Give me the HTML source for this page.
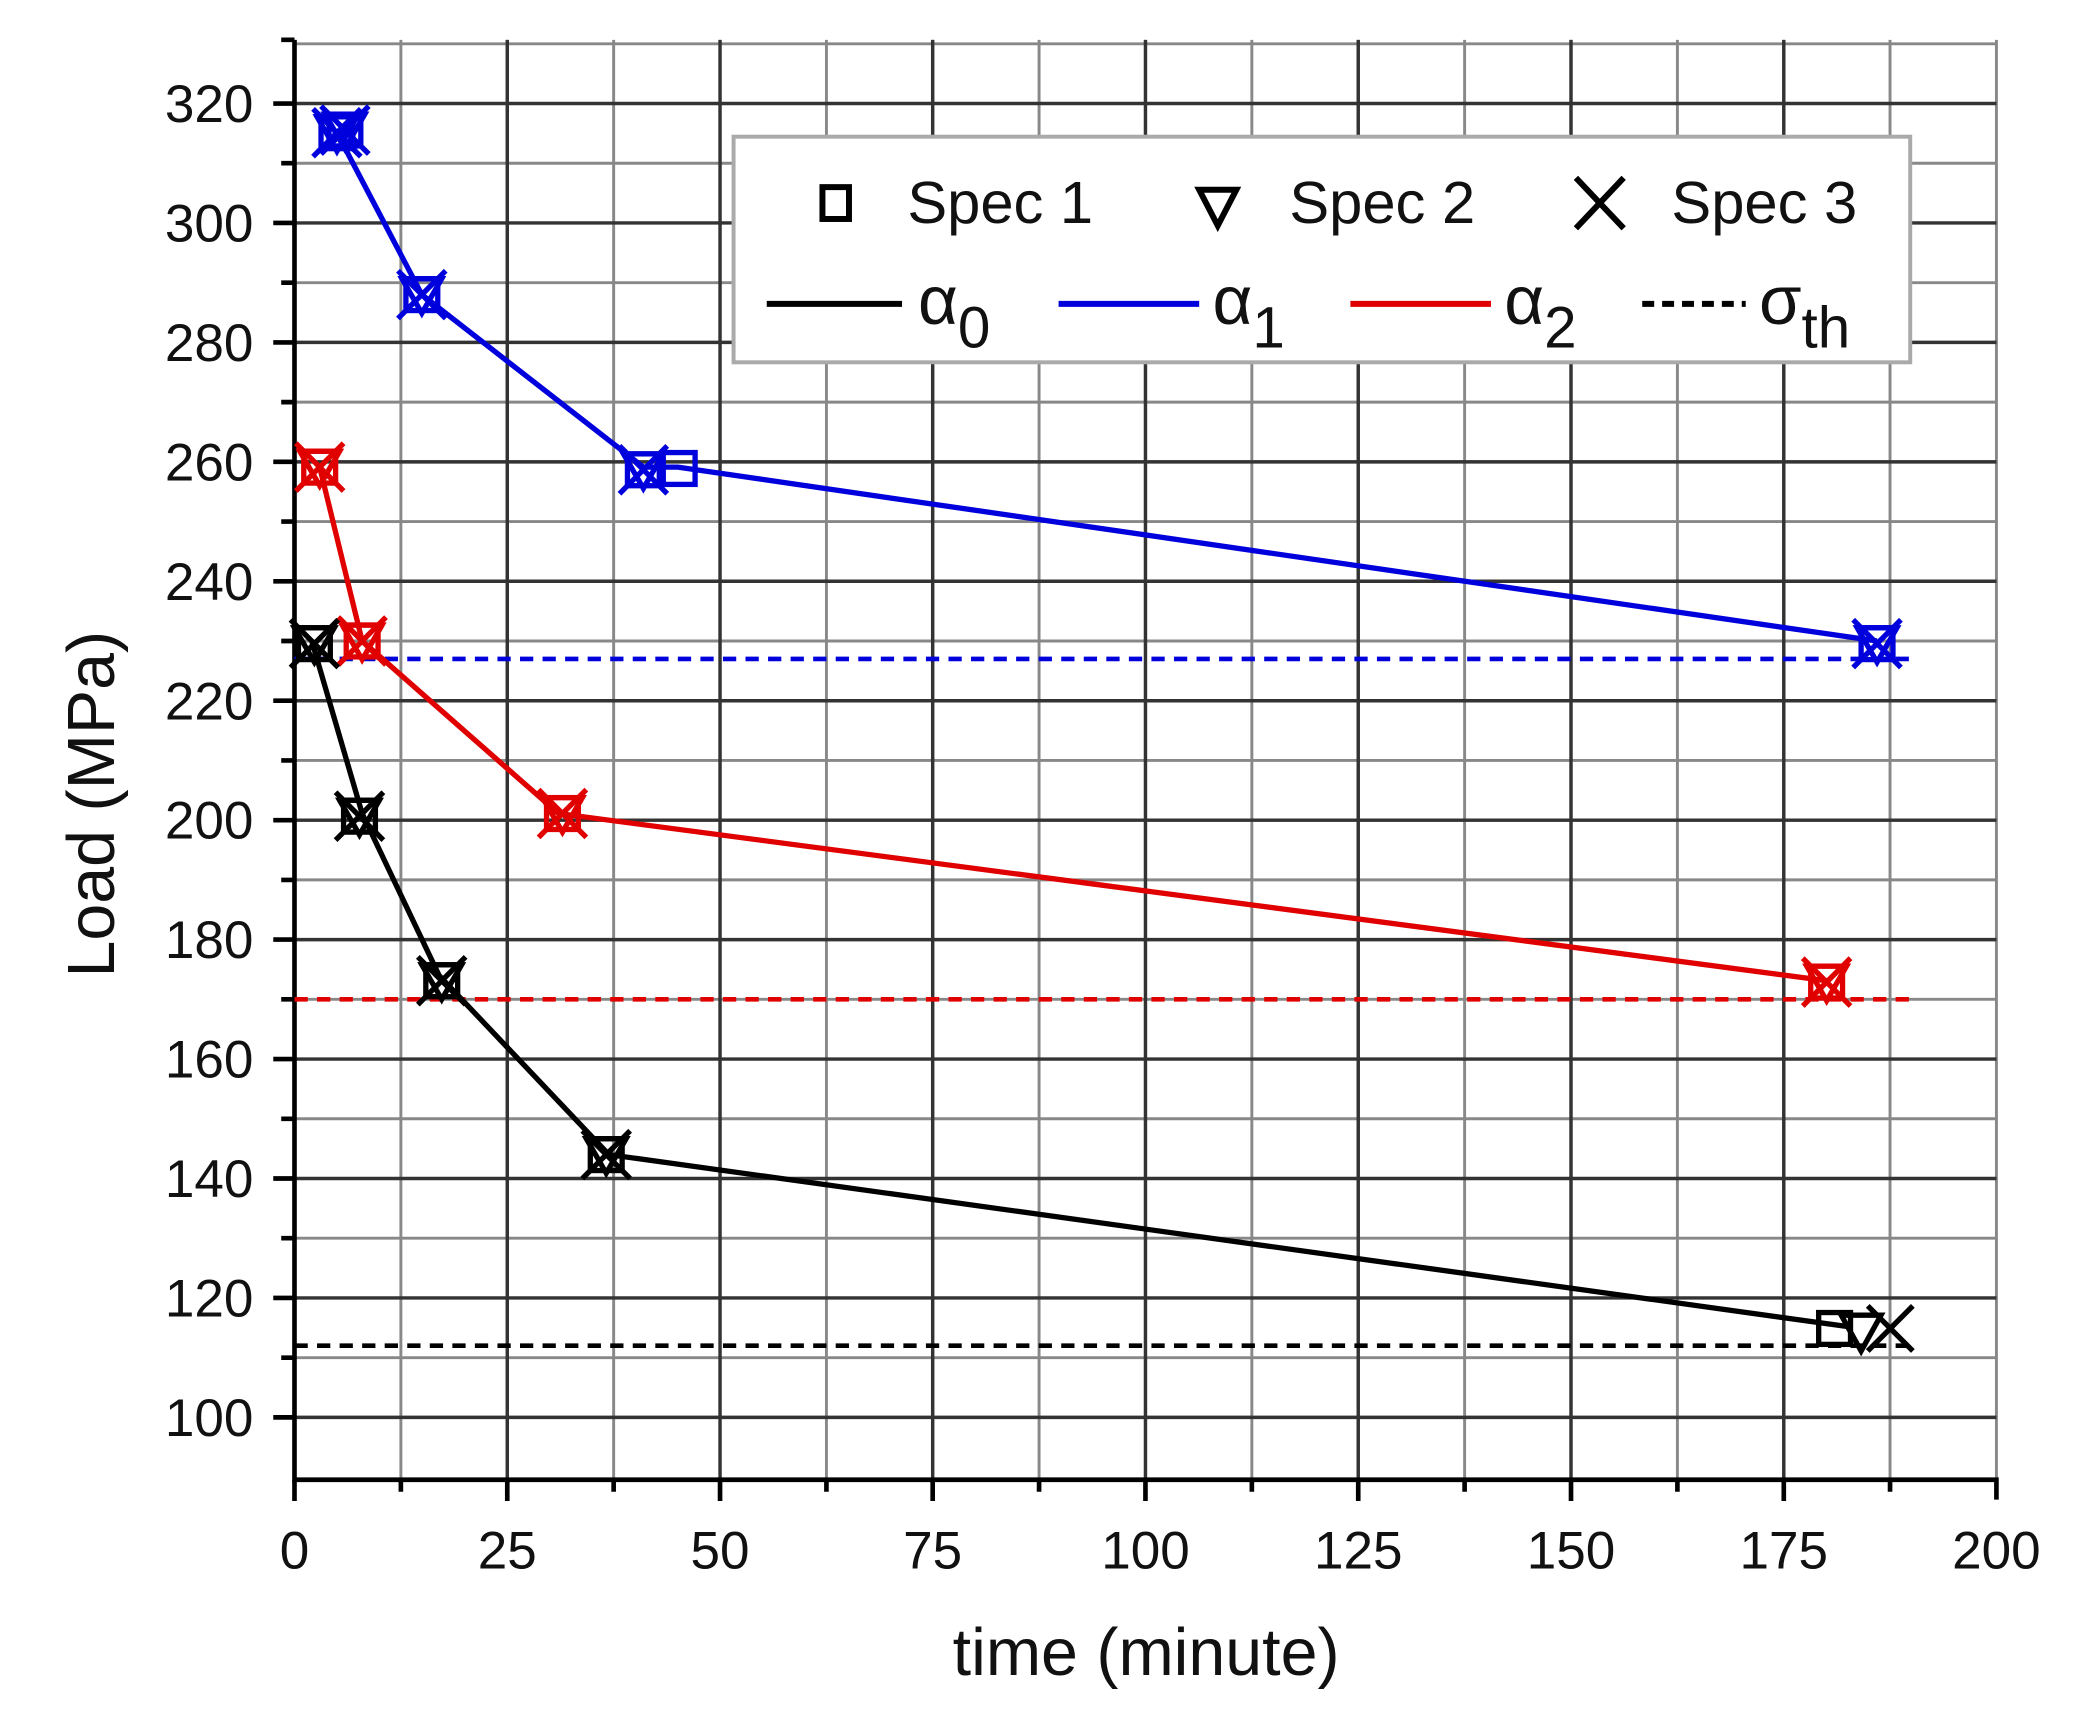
<!DOCTYPE html>
<html><head><meta charset="utf-8"><style>html,body{margin:0;padding:0;background:#fff}svg{display:block}</style></head>
<body>
<svg width="2080" height="1712" viewBox="0 0 1568 1290" preserveAspectRatio="none" xmlns="http://www.w3.org/2000/svg" font-family="Liberation Sans, sans-serif">
<rect width="1568" height="1290" fill="#fff"/>
<defs>
<g id="mk" fill="none" stroke-width="4">
<rect x="-12" y="-12" width="24" height="24"/>
<path d="M-15,-12 L15,-12 L0,14 Z"/>
<path d="M-18,-18 L18,18 M-18,18 L18,-18"/>
</g>
</defs>
<g stroke="#888" stroke-width="2.2">
<path d="M302.2,30V1115M382.4,30V1115M462.6,30V1115M542.8,30V1115M623,30V1115M703.1,30V1115M783.3,30V1115M863.5,30V1115M943.7,30V1115M1023.9,30V1115M1104.1,30V1115M1184.3,30V1115M1264.5,30V1115M1344.7,30V1115M1424.8,30V1115M1505,30V1115"/>
<path d="M222,33H1505M222,78H1505M222,123H1505M222,168H1505M222,213H1505M222,258H1505M222,303H1505M222,348H1505M222,393H1505M222,438H1505M222,483H1505M222,528H1505M222,573H1505M222,618H1505M222,663H1505M222,708H1505M222,753H1505M222,798H1505M222,843H1505M222,888H1505M222,933H1505M222,978H1505M222,1023H1505M222,1068H1505"/>
</g>
<g stroke="#333" stroke-width="2.6">
<path d="M382.4,30V1115M542.8,30V1115M703.1,30V1115M863.5,30V1115M1023.9,30V1115M1184.3,30V1115M1344.7,30V1115"/>
<path d="M222,78H1505M222,168H1505M222,258H1505M222,348H1505M222,438H1505M222,528H1505M222,618H1505M222,708H1505M222,798H1505M222,888H1505M222,978H1505M222,1068H1505"/>
</g>
<g stroke="#000" stroke-width="3.5" fill="none">
<path d="M222,30V1115H1505V1130M212,30H222"/>
<path d="M222,1115v16M382.4,1115v16M542.8,1115v16M703.1,1115v16M863.5,1115v16M1023.9,1115v16M1184.3,1115v16M1344.7,1115v16"/>
<path d="M302.2,1115v9M462.6,1115v9M623,1115v9M783.3,1115v9M943.7,1115v9M1104.1,1115v9M1264.5,1115v9M1424.8,1115v9"/>
<path d="M206,78h16M206,168h16M206,258h16M206,348h16M206,438h16M206,528h16M206,618h16M206,708h16M206,798h16M206,888h16M206,978h16M206,1068h16"/>
<path d="M212,123h10M212,213h10M212,303h10M212,393h10M212,483h10M212,573h10M212,663h10M212,753h10M212,843h10M212,933h10M212,1023h10"/>
</g>
<g font-size="40" fill="#111" text-anchor="end">
<text x="191" y="92">320</text><text x="191" y="182">300</text><text x="191" y="272">280</text><text x="191" y="362">260</text><text x="191" y="452">240</text><text x="191" y="542">220</text><text x="191" y="632">200</text><text x="191" y="722">180</text><text x="191" y="812">160</text><text x="191" y="902">140</text><text x="191" y="992">120</text><text x="191" y="1082">100</text>
</g>
<g font-size="40" fill="#111" text-anchor="middle">
<text x="222" y="1182">0</text><text x="382.4" y="1182">25</text><text x="542.8" y="1182">50</text><text x="703.1" y="1182">75</text><text x="863.5" y="1182">100</text><text x="1023.9" y="1182">125</text><text x="1184.3" y="1182">150</text><text x="1344.7" y="1182">175</text><text x="1505" y="1182">200</text>
</g>
<text x="864" y="1262" font-size="50" text-anchor="middle" fill="#111">time (minute)</text>
<text transform="translate(86,606) rotate(-90)" font-size="50" text-anchor="middle" fill="#111">Load (MPa)</text>
<g stroke-width="3.5" stroke-dasharray="10,7" fill="none">
<path d="M222,496.5H1445" stroke="#0000dd"/>
<path d="M222,753H1445" stroke="#e00000"/>
<path d="M222,1014H1445" stroke="#000"/>
</g>
<g fill="none" stroke-width="4">
<polyline stroke="#0000dd" points="254,100 318,222 485,352 511,352 1415,483"/>
<polyline stroke="#e00000" points="241,352 273,483 421,613 1377,739"/>
<polyline stroke="#000" points="235,483 273,613 331,735 459,870 1396,1000"/>
</g>
<g stroke="#0000dd">
<use href="#mk" x="254" y="100"/><use href="#mk" x="260" y="98"/>
<use href="#mk" x="318" y="222"/>
<use href="#mk" x="485" y="354"/><rect x="500" y="341" width="24" height="24" fill="none" stroke-width="4"/>
<use href="#mk" x="1415" y="485"/>
</g>
<g stroke="#e00000">
<use href="#mk" x="241" y="352"/><use href="#mk" x="273" y="483"/><use href="#mk" x="424" y="613"/><use href="#mk" x="1377" y="740"/>
</g>
<g stroke="#000">
<use href="#mk" x="237" y="485"/><use href="#mk" x="271" y="615"/><use href="#mk" x="333" y="739"/><use href="#mk" x="457" y="870"/>
<g fill="none" stroke-width="4"><rect x="1371" y="989" width="24" height="24"/><path d="M1388,991 L1418,991 L1403,1018 Z"/><path d="M1408,984 L1442,1018 M1408,1018 L1442,984"/></g>
</g>
<rect x="553" y="103" width="887" height="170" fill="#fff" stroke="#aaa" stroke-width="3"/>
<g font-size="45" fill="#111">
<rect x="620" y="141" width="20" height="24" fill="none" stroke="#000" stroke-width="4.5"/>
<text x="684" y="168">Spec 1</text>
<path d="M904,143 L932,143 L918,170 Z" fill="none" stroke="#000" stroke-width="4.5"/>
<text x="972" y="168">Spec 2</text>
<path d="M1188,134 L1224,172 M1188,172 L1224,134" stroke="#000" stroke-width="4.5"/>
<text x="1260" y="168">Spec 3</text>
<path d="M578,229H680" stroke="#000" stroke-width="4.5"/>
<path d="M798,229H904" stroke="#0000dd" stroke-width="4.5"/>
<path d="M1018,229H1124" stroke="#e00000" stroke-width="4.5"/>
<path d="M1238,229H1316" stroke="#000" stroke-width="4.5" stroke-dasharray="9,6"/>
<text x="692" y="244" font-size="52">α<tspan font-size="44" dy="18">0</tspan></text>
<text x="914" y="244" font-size="52">α<tspan font-size="44" dy="18">1</tspan></text>
<text x="1134" y="244" font-size="52">α<tspan font-size="44" dy="18">2</tspan></text>
<text x="1326" y="244" font-size="52">σ<tspan font-size="44" dy="18">th</tspan></text>
</g>
</svg>
</body></html>
